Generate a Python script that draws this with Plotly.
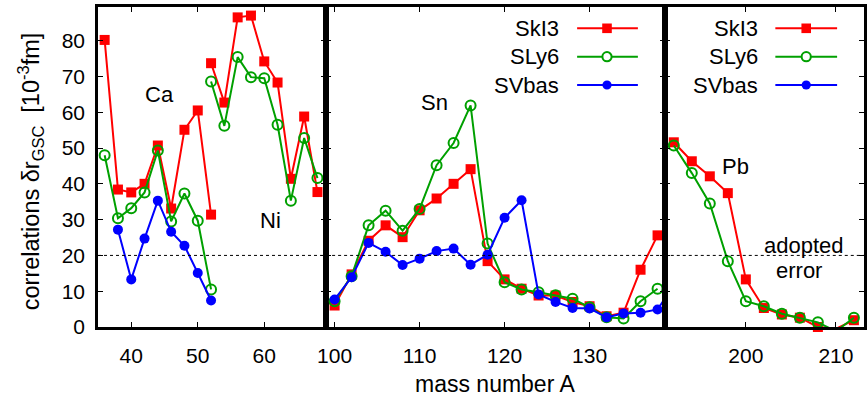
import plotly.graph_objects as go

# ---- data: correlations dr_GSC [1e-3 fm] vs mass number A ----
A_Ca = [36, 38, 40, 42, 44, 46, 48, 50, 52]
SkI3_Ca = [80.2, 38.4, 37.6, 40.0, 50.7, 33.1, 55.1, 60.5, 31.4]
SLy6_Ca = [48.0, 30.4, 33.2, 37.6, 49.3, 29.5, 37.3, 29.7, 10.5]
A_Ca_SV = [38, 40, 42, 44, 46, 48, 50, 52]
SVbas_Ca = [27.2, 13.3, 24.7, 35.3, 26.6, 22.7, 15.1, 7.4]

A_Ni = [52, 54, 56, 58, 60, 62, 64, 66, 68]
SkI3_Ni = [73.7, 62.7, 86.5, 87.0, 74.2, 68.3, 41.4, 58.8, 37.7]
SLy6_Ni = [68.6, 56.2, 75.4, 69.8, 69.5, 56.5, 35.3, 52.8, 41.6]

A_Sn = [100, 102, 104, 106, 108, 110, 112, 114, 116, 118,
        120, 122, 124, 126, 128, 130, 132, 134, 136, 138]
SkI3_Sn = [6.0, 14.7, 24.1, 28.4, 25.1, 32.6, 35.9, 40.0, 44.1, 18.4,
           13.3, 10.7, 8.8, 8.8, 7.0, 5.8, 3.0, 4.0, 16.0, 25.6]
SLy6_Sn = [7.2, 14.2, 28.4, 32.5, 26.9, 33.0, 45.2, 51.4, 61.9, 23.3,
           12.5, 10.5, 9.7, 8.9, 7.9, 5.5, 2.7, 2.4, 7.2, 10.7]
A_Sn_SV = A_Sn + [140]
SVbas_Sn = [7.7, 13.9, 23.5, 21.0, 17.3, 19.1, 21.2, 21.9, 17.4, 20.2,
            30.5, 35.4, 9.1, 7.0, 5.3, 5.2, 2.7, 3.8, 4.0, 4.9, 12.0]

A_Pb = [192, 194, 196, 198, 200, 202, 204, 206, 208, 210, 212]
SkI3_Pb = [51.6, 46.3, 42.1, 37.4, 13.3, 5.3, 3.5, 2.6, 0.0, -0.5, 1.9]
SLy6_Pb = [50.7, 43.0, 34.5, 18.4, 7.2, 5.8, 3.7, 2.6, 1.3, -1.2, 2.6]

ADOPTED_ERROR = 20

# axis ranges of the three panels
XR = [[35, 69.3], [99, 138.85], [191, 213.12]]
YR = [0, 89.4]

RED, GREEN, BLUE = "#ff0000", "#00a000", "#0000ff"
FONT = "Liberation Sans, Arial, Helvetica, sans-serif"

W, H = 867, 397
ML, MR, MT, MB = 98, 0, 7, 70
PW, PH = W - ML - MR, H - MT - MB


def px(x):
    return (x - ML) / PW


def py(y):
    return (H - MB - y) / PH


# panel domains in pixels
DOM = [(98, 327), (327, 667), (667, 867)]

STYLE = {
    "SkI3": dict(color=RED, symbol="square", size=10, fill=RED),
    "SLy6": dict(color=GREEN, symbol="circle-open", size=10, fill="white"),
    "SVbas": dict(color=BLUE, symbol="circle", size=10, fill=BLUE),
}

fig = go.Figure()


def add(xs, ys, name, panel):
    st = STYLE[name]
    xr = XR[panel - 1]
    # points outside the frame are not drawn (the line is still clipped at the frame)
    sizes = [st["size"] if (YR[0] <= v <= YR[1] and xr[0] <= a <= xr[1]) else 0
             for a, v in zip(xs, ys)]
    sfx = "" if panel == 1 else str(panel)
    fig.add_trace(go.Scatter(
        x=xs, y=ys, mode="lines+markers", name=name, showlegend=False,
        xaxis="x" + sfx, yaxis="y" + sfx, cliponaxis=False,
        line=dict(color=st["color"], width=2),
        marker=dict(symbol=st["symbol"], size=sizes, color=st["color"], opacity=1,
                    line=dict(color=st["color"], width=2 if name == "SLy6" else 0)),
    ))


add(A_Ca, SkI3_Ca, "SkI3", 1)
add(A_Ni, SkI3_Ni, "SkI3", 1)
add(A_Ca, SLy6_Ca, "SLy6", 1)
add(A_Ni, SLy6_Ni, "SLy6", 1)
add(A_Ca_SV, SVbas_Ca, "SVbas", 1)

add(A_Sn, SkI3_Sn, "SkI3", 2)
add(A_Sn, SLy6_Sn, "SLy6", 2)
add(A_Sn_SV, SVbas_Sn, "SVbas", 2)

add(A_Pb, SkI3_Pb, "SkI3", 3)
add(A_Pb, SLy6_Pb, "SLy6", 3)

axis_common = dict(
    showline=True, linecolor="black", linewidth=2.5, mirror="ticks",
    ticks="inside", ticklen=5, tickwidth=1.2, tickcolor="black",
    showgrid=False, zeroline=False,
    tickfont=dict(family=FONT, size=21, color="black"),
)

layout = dict(
    width=W, height=H, margin=dict(l=ML, r=MR, t=MT, b=MB),
    paper_bgcolor="white", plot_bgcolor="white",
    font=dict(family=FONT, size=21, color="black"),
    showlegend=False,
)
for i in range(3):
    sfx = "" if i == 0 else str(i + 1)
    d0, d1 = DOM[i]
    layout["xaxis" + sfx] = dict(
        axis_common, domain=[px(d0), px(d1)], range=XR[i],
        tick0=0, dtick=10, anchor="y" + sfx, ticklabelstandoff=8,
    )
    layout["yaxis" + sfx] = dict(
        axis_common, range=YR, tick0=0, dtick=10, anchor="x" + sfx,
        showticklabels=(i == 0), ticklabelstandoff=6,
    )
fig.update_layout(**layout)

shapes = []
# adopted error level in each panel
for i in range(3):
    sfx = "" if i == 0 else str(i + 1)
    shapes.append(dict(type="line", xref="x" + sfx + " domain", yref="y" + sfx,
                       x0=0, x1=1, y0=ADOPTED_ERROR, y1=ADOPTED_ERROR,
                       line=dict(color="black", width=1, dash="dot")))

annotations = []
# key blocks (text left of the sample line)
rows = [("SkI3", 28.3), ("SLy6", 56.7), ("SVbas", 85.0)]
for text_right, l0, l1, mx in [(563, 579, 640, 609), (763, 778, 840, 809)]:
    for name, yy in rows:
        st = STYLE[name]
        annotations.append(dict(
            x=px(text_right), y=py(yy), xref="paper", yref="paper",
            text=name, showarrow=False, xanchor="right", yanchor="middle",
            font=dict(family=FONT, size=22, color="black")))
        shapes.append(dict(type="line", xref="paper", yref="paper",
                           x0=px(l0), x1=px(l1), y0=py(yy), y1=py(yy),
                           line=dict(color=st["color"], width=2)))
        r = 4.8 if name == "SkI3" else 4.6
        shapes.append(dict(
            type="rect" if name == "SkI3" else "circle",
            xref="paper", yref="paper", xsizemode="pixel", ysizemode="pixel",
            xanchor=px(mx), yanchor=py(yy), x0=-r, x1=r, y0=-r, y1=r,
            fillcolor=st["fill"], line=dict(color=st["color"], width=2 if name == "SLy6" else 0)))

# element labels
for txt, x, y, ax in [("Ca", 44.3, 65.0, "1"), ("Ni", 60.9, 29.8, "1"),
                      ("Sn", 111.7, 62.8, "2"), ("Pb", 198.9, 44.8, "3"),
                      ("adopted", 206.5, 22.9, "3"), ("error", 205.9, 15.9, "3")]:
    sfx = "" if ax == "1" else ax
    annotations.append(dict(x=x, y=y, xref="x" + sfx, yref="y" + sfx, text=txt,
                            showarrow=False, xanchor="center", yanchor="middle",
                            font=dict(family=FONT, size=22, color="black")))

# axis titles
annotations.append(dict(x=px(497), y=py(384), xref="paper", yref="paper",
                        text="mass number A", showarrow=False,
                        xanchor="center", yanchor="middle",
                        font=dict(family=FONT, size=23, color="black")))
annotations.append(dict(x=px(30), y=py(171), xref="paper", yref="paper",
                        text="correlations δr<sub>GSC</sub>  [10<sup>-3</sup>fm]",
                        textangle=-90, showarrow=False,
                        xanchor="center", yanchor="middle",
                        font=dict(family=FONT, size=23.5, color="black")))

fig.update_layout(shapes=shapes, annotations=annotations)
fig.write_html("out.html")
